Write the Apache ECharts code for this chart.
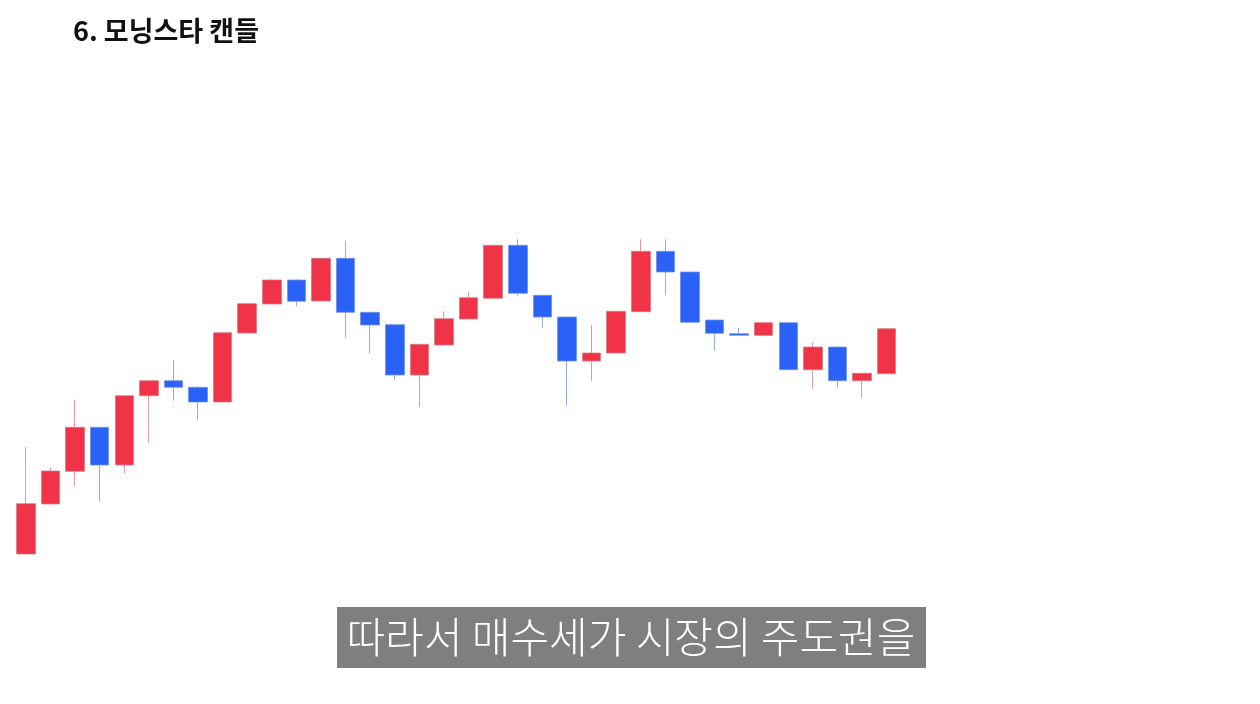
<!DOCTYPE html>
<html>
<head>
<meta charset="utf-8">
<script src="https://cdn.jsdelivr.net/npm/echarts@6/dist/echarts.min.js"></script>
<style>
html,body{margin:0;padding:0;background:#fff;}
#chart{width:1260px;height:704px;}
</style>
</head>
<body>
<div id="chart"></div>
<script>
const titleText = '6. 모닝스타 캔들';
const captionText = '따라서 매수세가 시장의 주도권을';
const days = ['1','2','3','4','5','6','7','8','9','10','11','12','13','14','15','16','17','18','19','20','21','22','23','24','25','26','27','28','29','30','31','32','33','34','35','36'];
const opens  = [46, 96, 128.7,172.7,135, 204.3,219.3,212.7,198, 267, 296, 320, 299, 341.7,287.7,275.3,225, 255, 281, 301.7,354.7,304.7,283, 239, 247, 288.3,348.7,328, 280, 266.3,264.7,277.3,230.3,253, 219.3,226.3];
const closes = [96.3,129,172.7,135, 204.3,219.3,212.7,198, 267.3,296.3,320, 298.7,341.7,287.7,275, 225, 255.7,281.3,302.3,354.7,306.7,283, 239, 247, 288.7,348.7,328, 277.7,266.7,264.7,277.3,230.3,253, 219.3,226.7,271.3];
const lows   = [46, 96, 113.7,98.3,126.7,157.7,199.3,180.3,198, 266, 296, 294, 299, 262.3,246.7,220, 192.7,255, 281, 301.7,304.3,271.7,194.3,219.3,247, 288.3,304.7,277.7,249.3,264.7,264.7,230.3,211.3,212.7,202.3,226.3];
const highs  = [153,132.7,200.3,172.7,204.3,219.3,239.7,214, 268, 296.3,320.7,320.7,342.3,359.3,287.7,275.3,255.7,288.7,308.3,354.7,360.7,304.7,283, 275.3,288.7,360.7,360.7,328, 280, 272, 277.3,277.3,257.7,253, 226.7,271.3];

const ohlc = days.map((d, i) => [opens[i], closes[i], lows[i], highs[i]]);

const chart = echarts.init(document.getElementById('chart'), null, {renderer: 'canvas'});
chart.setOption({
  animation: false,
  backgroundColor: '#ffffff',
  grid: {left: 13.6, width: 885.4, top: 200, height: 400},
  xAxis: {type: 'category', data: days, show: false, boundaryGap: true},
  yAxis: {type: 'value', min: 0, max: 400, show: false},
  series: [{
    type: 'candlestick',
    data: ohlc,
    barWidth: 19,
    itemStyle: {
      color: '#F03347',
      color0: '#2A62F8',
      borderColor: 'rgba(215,120,135,0.75)',
      borderColor0: 'rgba(110,145,230,0.75)',
      borderWidth: 1
    }
  }],
  graphic: [
    {
      type: 'text', x: 73, y: 31,
      style: {text: titleText, font: 'bold 27px "Noto Sans CJK KR", "Noto Sans", sans-serif', fill: '#111111', verticalAlign: 'middle'}
    },
    {
      type: 'rect', shape: {x: 337, y: 607, width: 589, height: 61},
      style: {fill: '#7f7f7f'}
    },
    {
      type: 'text', x: 631, y: 637,
      style: {text: captionText, font: '300 42px "Noto Sans CJK KR", sans-serif', fill: '#ffffff', align: 'center', verticalAlign: 'middle'}
    }
  ]
});
</script>
</body>
</html>
